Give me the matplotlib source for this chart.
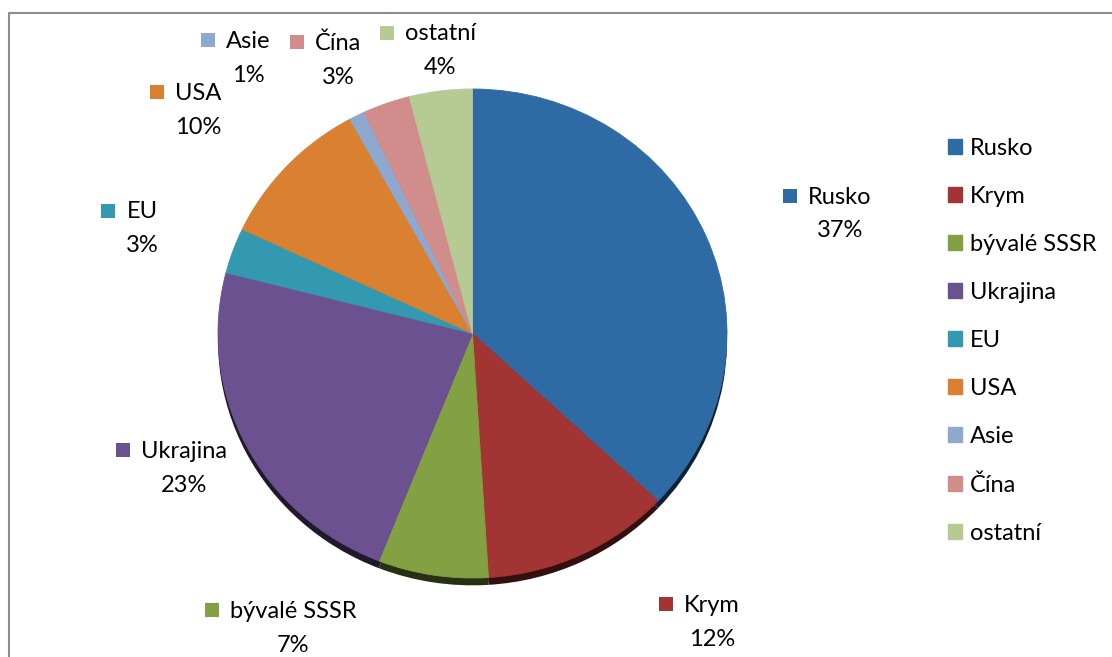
import matplotlib
matplotlib.use('Agg')
import matplotlib.pyplot as plt
from matplotlib.colors import to_rgb
from matplotlib.patches import Rectangle, Patch
from matplotlib.lines import Line2D

categories = ['Rusko', 'Krym', 'bývalé SSSR', 'Ukrajina', 'EU', 'USA', 'Asie', 'Čína', 'ostatní']
shares = [37, 12, 7, 23, 3, 10, 1, 3, 4]
colors = ['#2E6BA4', '#A23533', '#83A043', '#6B5190', '#3399B0',
          '#DA8031', '#8FA8D0', '#D08D8C', '#B6CA93']

# where the data labels sit (centre of the name line, pixels from top left)
label_pos = [(840, 197), (712, 605), (293, 611), (184, 451), (142, 212),
             (198, 93), (248, 41), (338, 43), (440, 34)]

W, H = 1112, 657
plt.rcParams['font.family'] = ['Lato', 'DejaVu Sans']
FS = 17


def px(x, y):
    # image pixels -> figure fraction
    return x / W, 1 - y / H


fig = plt.figure(figsize=(W / 100, H / 100), dpi=100)

# pie, slightly squashed like the excel 3d look
ax = fig.add_axes([218 / W, 79 / H, 509 / W, 489 / H])
shadow = [tuple(0.3 * c for c in to_rgb(col)) for col in colors]
ax.pie(shares, colors=shadow, startangle=90, counterclock=False,
       center=(0, -0.03), wedgeprops=dict(linewidth=0))
wedges, _ = ax.pie(shares, colors=colors, startangle=90, counterclock=False,
                   wedgeprops=dict(linewidth=0.6))
for w, c in zip(wedges, colors):
    w.set_edgecolor(c)
ax.set_xlim(-1, 1)
ax.set_ylim(-1, 1)
ax.set_aspect('auto')
ax.axis('off')

# data labels: name + percent, with a colour key left of the name
names = []
for name, share, col, (x, y) in zip(categories, shares, colors, label_pos):
    t = fig.text(*px(x, y), name, ha='center', va='center', fontsize=FS)
    fig.text(*px(x, y + 34), '%d%%' % share, ha='center', va='center', fontsize=FS)
    names.append((t, col))

fig.canvas.draw()
r = fig.canvas.get_renderer()
for t, col in names:
    bb = t.get_window_extent(r)
    yc = (bb.y0 + bb.y1) / 2 + 1
    fig.add_artist(Rectangle(((bb.x0 - 25) / W, (yc - 7) / H), 14 / W, 14 / H,
                             transform=fig.transFigure, color=col, lw=0))

# legend on the right
handles = [Patch(color=c) for c in colors]
fig.legend(handles, categories, loc='upper left', bbox_to_anchor=(948 / W, 1 - 138 / H),
           frameon=False, fontsize=FS, handlelength=0.6, handleheight=0.6,
           handletextpad=0.34, labelspacing=1.145, borderaxespad=0, borderpad=0)

# chart area border (only top and left are inside the crop)
fig.add_artist(Line2D([9 / W, 9 / W, 1], [0, 1 - 13 / H, 1 - 13 / H],
                      transform=fig.transFigure, color='#8C8C8C', lw=1.5))

fig.savefig('out.png', dpi=100)
